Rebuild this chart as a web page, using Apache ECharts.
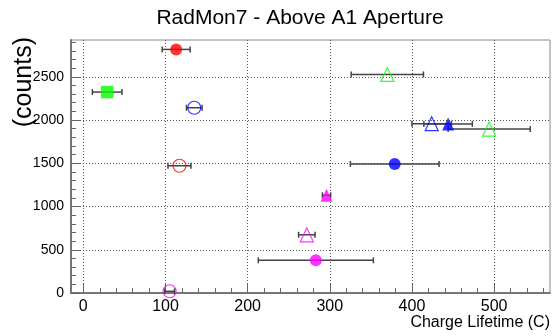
<!DOCTYPE html>
<html>
<head>
<meta charset="utf-8">
<script src="https://cdn.jsdelivr.net/npm/echarts@6/dist/echarts.min.js"></script>
<style>
  html, body { margin: 0; padding: 0; background: #ffffff; }
  #chart { width: 552px; height: 336px; }
</style>
</head>
<body>
<div id="chart"></div>
<script>
// Charge lifetime (C) with its uncertainty, and measured counts, one entry per run
const lifetime    = [113, 29, 135, 117, 370, 424, 444, 494, 379, 296, 272, 283, 105];
const lifetimeErr = [17, 18, 9.5, 14, 44, 24, 29.5, 50, 54, 5, 10, 70, 6];
const counts      = [2816, 2323, 2142, 1471, 2527, 1957, 1955, 1896, 1492, 1130, 673, 378, 20];

// Axis ticks
const xMajorTicks = [0, 100, 200, 300, 400, 500];
const xMinorTicks = [20, 40, 60, 80, 120, 140, 160, 180, 220, 240, 260, 280,
                     320, 340, 360, 380, 420, 440, 460, 480, 520, 540, 560];
const yMajorTicks = [0, 500, 1000, 1500, 2000, 2500];
const yMinorTicks = [100, 200, 300, 400, 600, 700, 800, 900, 1100, 1200, 1300, 1400,
                     1600, 1700, 1800, 1900, 2100, 2200, 2300, 2400, 2600, 2700, 2800, 2900];

// Marker per run: shape, colour, filled or hollow
const markerShape  = ['circle', 'rect', 'circle', 'circle', 'triangle', 'triangle', 'triangle',
                      'triangle', 'circle', 'triangle', 'triangle', 'circle', 'circle'];
const markerColor  = ['#ff0000', '#00ff00', '#0000ff', '#ff0000', '#00ff00', '#0000ff', '#0000ff',
                      '#00ff00', '#0000ff', '#ff00ff', '#ff00ff', '#ff00ff', '#ff00ff'];
const markerFilled = [true, true, false, false, false, false, true, false, true, true, false, true, false];

const FONT = '"Liberation Sans", Arial, Helvetica, sans-serif';
const X_MIN = -15, X_MAX = 568, Y_MIN = 0, Y_MAX = 2925;

function markerSize(i) {
  const s = markerShape[i];
  if (s === 'triangle') return markerFilled[i] ? [12, 13] : [13, 14];
  if (s === 'rect') return [12.5, 12.5];
  return markerFilled[i] ? 12 : 13;
}

const errorData = lifetime.map((x, i) => [x - lifetimeErr[i], x + lifetimeErr[i], counts[i]]);

const pointData = lifetime.map((x, i) => ({
  value: [x, counts[i]],
  symbol: markerShape[i],
  symbolSize: markerSize(i),
  itemStyle: markerFilled[i]
    ? { color: markerColor[i], borderWidth: 0 }
    : { color: 'rgba(0,0,0,0)', borderColor: markerColor[i], borderWidth: 1.2 }
}));

const gridLine = { show: true, lineStyle: { color: '#555', type: [1, 2], width: 1 } };
const tickLine = { color: '#666', width: 1 };
const plain = v => String(v);

const chart = echarts.init(document.getElementById('chart'), null, { renderer: 'canvas' });

chart.setOption({
  animation: false,
  backgroundColor: '#ffffff',
  title: {
    text: 'RadMon7 - Above A1 Aperture',
    left: 295,
    textAlign: 'center',
    top: 3,
    textStyle: { fontFamily: FONT, fontSize: 21, fontWeight: 'normal', color: '#000' }
  },
  grid: {
    left: 71, right: 2, top: 40, bottom: 43,
    show: true, borderColor: '#888', borderWidth: 1, backgroundColor: 'transparent'
  },
  xAxis: [
    {
      type: 'value', min: X_MIN, max: X_MAX,
      axisLine: { show: true, onZero: false, lineStyle: { color: '#777', width: 2 } },
      axisTick: { show: true, inside: true, length: 9, customValues: xMajorTicks, lineStyle: tickLine },
      axisLabel: { customValues: xMajorTicks, formatter: plain, margin: 6, color: '#000',
                   fontFamily: FONT, fontSize: 16 },
      splitLine: gridLine
    },
    {
      type: 'value', min: X_MIN, max: X_MAX, position: 'bottom',
      axisLine: { show: false, onZero: false },
      axisTick: { show: true, inside: true, length: 5, customValues: xMinorTicks, lineStyle: tickLine },
      axisLabel: { show: false },
      splitLine: { show: false }
    }
  ],
  yAxis: [
    {
      type: 'value', min: Y_MIN, max: Y_MAX,
      axisLine: { show: true, onZero: false, lineStyle: { color: '#777', width: 2 } },
      axisTick: { show: true, inside: true, length: 9, customValues: yMajorTicks, lineStyle: tickLine },
      axisLabel: { customValues: yMajorTicks, formatter: plain, margin: 7, color: '#000',
                   fontFamily: FONT, fontSize: 14 },
      splitLine: gridLine
    },
    {
      type: 'value', min: Y_MIN, max: Y_MAX, position: 'left',
      axisLine: { show: false, onZero: false },
      axisTick: { show: true, inside: true, length: 5, customValues: yMinorTicks, lineStyle: tickLine },
      axisLabel: { show: false },
      splitLine: { show: false }
    }
  ],
  graphic: [
    {
      type: 'text', x: 24, y: 37, rotation: Math.PI / 2,
      style: { text: '(counts)', fill: '#000', font: '25px ' + FONT,
               textAlign: 'right', textVerticalAlign: 'middle' }
    },
    {
      type: 'text', x: 550, y: 323,
      style: { text: 'Charge Lifetime (C)', fill: '#000', font: '16px ' + FONT,
               textAlign: 'right', textVerticalAlign: 'middle' }
    }
  ],
  series: [
    {
      name: 'lifetime error',
      type: 'custom',
      clip: false,
      z: 3,
      data: errorData,
      renderItem: function (params, api) {
        const lo = api.coord([api.value(0), api.value(2)]);
        const hi = api.coord([api.value(1), api.value(2)]);
        const cap = 3;
        const style = { stroke: '#444', lineWidth: 1.5 };
        return {
          type: 'group',
          children: [
            { type: 'line', shape: { x1: lo[0], y1: lo[1], x2: hi[0], y2: hi[1] }, style: style },
            { type: 'line', shape: { x1: lo[0], y1: lo[1] - cap, x2: lo[0], y2: lo[1] + cap }, style: style },
            { type: 'line', shape: { x1: hi[0], y1: hi[1] - cap, x2: hi[0], y2: hi[1] + cap }, style: style }
          ]
        };
      }
    },
    {
      name: 'counts',
      type: 'scatter',
      clip: false,
      z: 4,
      data: pointData
    }
  ]
});
</script>
</body>
</html>
